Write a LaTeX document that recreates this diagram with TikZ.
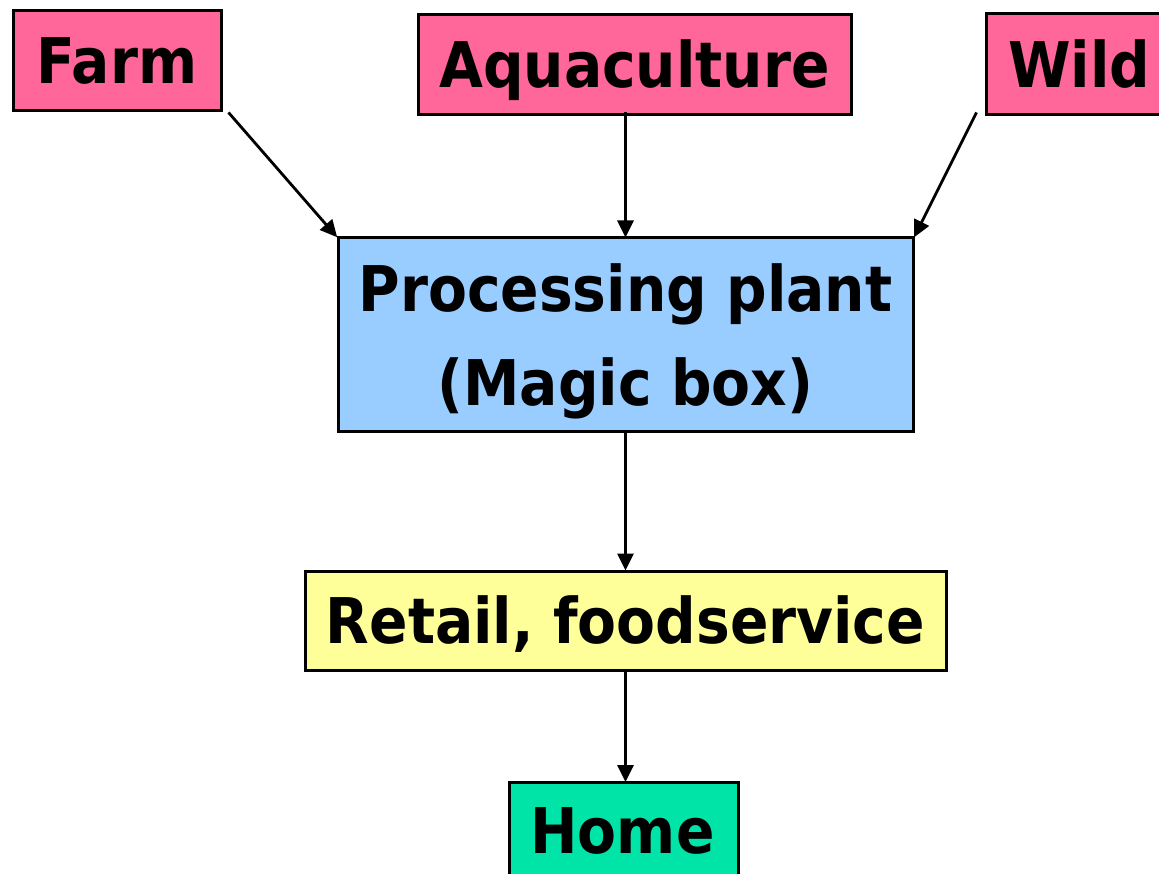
\documentclass[tikz,border=0pt]{standalone}
\usepackage{fontspec}
\setmainfont{DejaVu Sans Condensed}
\usetikzlibrary{arrows.meta}
\definecolor{pinkbox}{HTML}{FF6699}
\definecolor{bluebox}{HTML}{99CCFF}
\definecolor{yellowbox}{HTML}{FFFF99}
\definecolor{greenbox}{HTML}{00E4A8}
\tikzset{
  box/.style={draw=black, line width=3pt, inner sep=0pt, font=\fontsize{63}{93}\selectfont\bfseries, text height=46pt, text depth=0pt},
  lbl/.style={inner sep=0pt, font=\fontsize{63}{93}\selectfont\bfseries, anchor=base},
  conn/.style={line width=2.8pt, -{Triangle[length=17pt,width=16pt]}, shorten >=-1pt}
}
\begin{document}
\begin{tikzpicture}[x=1pt,y=-1pt]
\useasboundingbox (0,0) rectangle (1159,874);
\clip (0,0) rectangle (1159,874);
\node[box, fill=pinkbox, minimum width=208pt, minimum height=100pt] (farm) at (117,61) {Farm};
\node[box, fill=pinkbox, minimum width=433pt, minimum height=100pt] (aqua) at (634.5,65) {Aquaculture};
\node[box, fill=pinkbox, minimum width=186pt, minimum height=101pt] (wild) at (1079,64.5) {};
\node[lbl, anchor=base west] (wildtext) at (1008,88) {Wild};
\node[box, fill=bluebox, minimum width=575pt, minimum height=193pt] (proc) at (625.5,334.5) {};
\node[lbl] (proc1) at (625.5,312) {Processing plant};
\node[lbl] (proc2) at (625.5,405) {(Magic box)};
\node[box, fill=yellowbox, minimum width=641pt, minimum height=99pt] (retail) at (625.5,620.5) {Retail, foodservice};
\node[box, fill=greenbox, minimum width=229pt, minimum height=100pt, anchor=north] (home) at (623.5,781) {};
\node[lbl] (hometext) at (622.5,853) {Home};
\draw[conn] ([xshift=6pt]farm.south east) -- (proc.north west);
\draw[conn] (proc.north |- aqua.south) ++(0,-4) -- (proc.north);
\draw[conn] ([xshift=-8pt,yshift=4pt]wild.south west) -- (proc.north east);
\draw[conn] (proc.south) -- (retail.north);
\draw[conn] (retail.south) -- (retail.south |- home.north);
\end{tikzpicture}
\end{document}
